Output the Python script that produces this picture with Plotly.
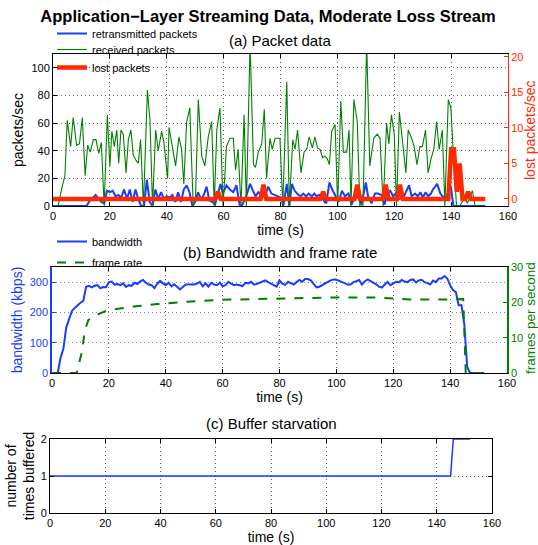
import plotly.graph_objects as go

# ---------------- data ----------------
# (a) received packets (green), time in s
recv_t = [0, 1.8, 3.0, 4.2, 5.0, 6.2, 7.1, 8.3, 9.3, 10.3, 11.3, 12.2, 13.1, 14.2, 15.1, 16.1, 17.0, 18.0,
          19.1, 20.0, 20.7, 21.6, 22.4, 23.1, 23.9, 24.7, 25.7, 26.5, 27.4, 28.2, 29.2, 30.0, 30.8, 31.8,
          33.2, 34.1, 35.0, 36.1, 37.0, 38.2, 39.0, 40.3, 40.8, 41.7, 43.1, 44.3, 45.2, 46.0, 47.0, 48.1,
          49.3, 50.1, 51.1, 52.3, 53.4, 54.6, 55.8, 56.7, 57.6, 58.7, 59.8, 61.0, 62.2, 63.4, 64.2, 65.1,
          66.1, 67.2, 68.0, 69.3, 70.5, 71.2, 72.2, 73.4, 74.3, 75.1, 76.3, 77.1, 78.1, 79.8, 80.8, 82.2,
          83.1, 84.3, 85.1, 86.0, 87.2, 88.3, 89.2, 90.1, 91.2, 92.1, 93.0, 93.9, 94.8, 95.6, 96.5, 97.2,
          98.0, 99.2, 100.1, 101.2, 102.1, 103.3, 104.1, 104.8, 105.8, 107.0, 107.9, 109.0, 110.3, 111.4,
          112.8, 114.0, 115.0, 116.1, 117.3, 118.1, 119.0, 120.0, 120.8, 121.8, 123.2, 124.1, 124.9, 126.1,
          127.0, 128.0, 129.0, 129.9, 131.0, 131.9, 132.9, 133.9, 134.9, 135.8, 136.9, 137.8, 139.0, 139.9,
          141.1, 141.9, 143.0, 144.8, 145.7, 147.5, 148.4, 152.0]
recv_v = [0, 0, 12, 22, 62, 43, 64, 44, 45, 64, 22, 44, 39, 48, 48, 38, 46, 0,
          66, 29, 54, 43, 55, 31, 55, 52, 24, 48, 55, 37, 33, 31, 48, 0,
          84, 62, 0, 55, 40, 54, 46, 20, 57, 45, 29, 50, 41, 16, 61, 71,
          0, 5, 77, 36, 29, 50, 61, 0, 55, 71, 0, 43, 49, 49, 26, 41,
          0, 66, 0, 118, 30, 28, 39, 45, 70, 20, 49, 41, 49, 49, 0, 90,
          0, 48, 41, 55, 24, 39, 41, 50, 42, 50, 42, 41, 35, 36, 34, 30,
          54, 59, 0, 76, 39, 39, 55, 0, 77, 61, 0, 0, 118, 29,
          49, 52, 49, 0, 60, 45, 66, 52, 0, 68, 40, 24, 55, 49,
          43, 30, 43, 43, 55, 24, 34, 41, 61, 41, 55, 0, 77, 71,
          26, 0, 0, 6, 2, 11, 0, 0]

# (a) retransmitted packets (blue)
retx_t = [0, 11.8, 13, 14, 15, 16, 17, 18, 19, 20, 21, 22, 23, 24, 25, 26, 27, 28, 29, 30, 31, 32, 33, 34,
          35, 36, 37, 38, 39, 40, 41, 42, 43, 44, 45, 46, 47, 48, 49, 50, 51, 52, 53, 54, 55, 56, 57,
          58.9, 59.7, 61, 62.2, 63.4, 64.5, 65.6, 66.4, 67.9, 69.3, 70.1, 71.2, 72.2, 73.4, 74.5, 75.7,
          76.8, 78, 79.2, 80.3, 81, 82.2, 83.1, 84, 85, 86.3, 87.1, 88, 89, 89.9, 91, 91.9, 92.7, 93.5,
          94.4, 95.5, 96.1, 97.2, 98.4, 99.2, 100.4, 101.6, 102.7, 103.9, 105, 106.2, 107.3, 108.5, 110,
          110.8, 112, 113.2, 114.3, 115.5, 116.6, 117.5, 118.6, 119.6, 120.5, 121.5, 123.2, 125.2, 126.1,
          127.3, 128.3, 129.2, 130.1, 131, 131.9, 132.9, 133.6, 135.1, 136.2, 137, 138.2, 139.9, 140.8, 152]
retx_v = [0, 0, 4, 6, 8, 5, 3, 2, 11, 10, 11, 7, 8, 6, 12, 5, 12, 3, 12, 5, 0, 0, 19, 3,
          0, 12, 5, 10, 5, 7, 6, 8, 3, 10, 3, 12, 15, 10, 0, 3, 10, 5, 8, 14, 4, 3, 1,
          16, 9, 15, 12, 10, 15, 1, 0, 7, 16, 12, 7, 10, 7, 7, 14,
          9, 8, 7, 6, 0, 16, 0, 16, 11, 8, 7, 9, 7, 9, 7, 9, 7, 8,
          7, 3, 2, 17, 11, 8, 3, 11, 7, 9, 1, 7, 6, 1, 17,
          7, 2, 9, 9, 8, 1, 9, 11, 7, 9, 5, 6, 15, 7,
          9, 7, 10, 6, 10, 7, 9, 12, 16, 9, 7, 6, 14, 0, 0]

# (a) lost packets (red, right axis)
lost_t = [0, 57, 58, 59, 73, 74, 75, 94, 95, 96, 106, 107, 108, 116, 117, 118, 121, 122, 123,
          139, 140, 141, 142, 143, 144, 145, 146, 147, 152]
lost_v = [0, 0, 1, 0, 0, 2, 0, 0, 1, 0, 0, 2, 0, 0, 2, 0, 0, 2, 0,
          0, 7, 7, 1, 5, 0, 0, 1, 0, 0]

# (b) bandwidth (kbps), one value per second from t=0
bw_v = [0, 0, 0, 50, 80, 150, 175, 205, 215, 225, 232, 238, 285, 288, 283, 288, 290, 280, 284, 283,
        300, 302, 292, 294, 290, 296, 284, 290, 288, 298, 294, 303, 307, 298, 292, 290, 280, 295, 304, 296,
        290, 298, 286, 293, 284, 276, 284, 292, 292, 292, 292, 295, 301, 286, 296, 285, 298, 292, 290, 298,
        286, 290, 301, 295, 290, 292, 289, 287, 298, 296, 301, 292, 294, 298, 300, 306, 300, 296, 290, 285,
        306, 295, 291, 301, 296, 292, 300, 307, 301, 310, 310, 306, 294, 283, 285, 290, 296, 302, 306, 309,
        308, 304, 300, 296, 292, 292, 300, 303, 307, 292, 303, 309, 304, 300, 293, 285, 282, 292, 301, 290,
        296, 301, 300, 307, 302, 300, 307, 309, 299, 306, 308, 300, 297, 292, 305, 300, 312, 312, 320, 312,
        290, 274, 268, 224, 224, 160, 20, 0, 0, 0, 0, 0, 0]
bw_t = list(range(len(bw_v)))

# (b) frame rate (fps, right axis)
fr_t = [0, 8.7, 10.4, 11.6, 12.8, 14.5, 16.9, 19.2, 21.6, 28.6, 36.9, 47.4, 59.0, 75.6, 88.5, 100.2,
        112.0, 120.2, 126.0, 140.0, 144.6, 145.5, 152]
fr_v = [0, 0, 5.6, 12.2, 15.0, 15.9, 16.9, 17.6, 18.0, 18.8, 19.5, 20.2, 20.7, 21.1, 21.2, 21.4,
        21.4, 21.1, 20.8, 20.8, 20.9, 0, 0]

# (c) buffer starvation
buf_t = [0, 145, 146, 152]
buf_v = [1, 1, 2, 2]

x_ticks = [0, 20, 40, 60, 80, 100, 120, 140, 160]

# ---------------- styling ----------------
FONT = "Liberation Sans, Arial, Helvetica, sans-serif"
BLUE = "#1a3cff"
GREEN = "#008000"
RED = "#ff2a00"
W, H = 538, 545
DOTS = "1px,3px"

def dx(a, b):
    return [a / W, b / W]

def dy(top, bottom):
    return [1 - bottom / H, 1 - top / H]

fig = go.Figure()

fig.add_trace(go.Scatter(x=retx_t, y=retx_v, mode="lines", name="retransmitted packets",
                         line=dict(color=BLUE, width=2), xaxis="x", yaxis="y", legend="legend"))
fig.add_trace(go.Scatter(x=recv_t, y=recv_v, mode="lines", name="received packets",
                         line=dict(color=GREEN, width=1.1), xaxis="x", yaxis="y", legend="legend2"))
fig.add_trace(go.Scatter(x=lost_t, y=lost_v, mode="lines", name="lost packets",
                         line=dict(color=RED, width=4.5), xaxis="x", yaxis="y2", legend="legend3"))

fig.add_trace(go.Scatter(x=bw_t, y=bw_v, mode="lines", name="bandwidth",
                         line=dict(color=BLUE, width=2), xaxis="x2", yaxis="y3", legend="legend4"))
fig.add_trace(go.Scatter(x=fr_t, y=fr_v, mode="lines", name="frame rate",
                         line=dict(color=GREEN, width=2, dash="dash"), xaxis="x2", yaxis="y4", legend="legend5"))

fig.add_trace(go.Scatter(x=buf_t, y=buf_v, mode="lines", name="buffered",
                         line=dict(color=BLUE, width=1.5), xaxis="x3", yaxis="y5", showlegend=False))

tickfont = dict(family=FONT, size=11, color="black")
titlefont = dict(family=FONT, size=14, color="black")
grid = dict(showgrid=True, gridcolor="#666666", griddash=DOTS, gridwidth=1)

def xax(domain, anchor):
    return dict(domain=domain, anchor=anchor, range=[0, 160], tickvals=x_ticks, automargin=False,
                ticks="inside", ticklen=4, tickcolor="black", showline=True, linecolor="black",
                linewidth=1, mirror="ticks", zeroline=False, tickfont=tickfont,
                title=dict(text="time (s)", font=titlefont, standoff=2), **grid)

def leg(top_px):
    return dict(x=52 / W, y=1 - (top_px - 14) / H, xanchor="left", yanchor="top",
                bgcolor="rgba(0,0,0,0)", font=dict(family=FONT, size=11, color="black"))

# right-hand axis titles placed at the reference's x position
def right_title(text, color, center_px, size):
    return dict(text=text, x=530 / W, y=1 - center_px / H, xref="paper", yref="paper",
                showarrow=False, textangle=-90, xanchor="center", yanchor="middle",
                font=dict(family=FONT, size=size, color=color))

fig.update_layout(
    width=W, height=H, margin=dict(l=0, r=0, t=0, b=0, autoexpand=False),
    paper_bgcolor="white", plot_bgcolor="white",
    font=dict(family=FONT, color="black"),
    title=dict(text="<b>Application\u2212Layer Streaming Data, Moderate Loss Stream</b>",
               x=268 / W, xanchor="center", y=1 - 16 / H, yanchor="middle",
               font=dict(family=FONT, size=16.5, color="black")),
    xaxis=xax(dx(53, 508), "y"),
    yaxis=dict(domain=dy(54, 206), anchor="x", range=[0, 110], tickvals=[0, 20, 40, 60, 80, 100],
               ticks="inside", ticklen=4, tickcolor="black", showline=True, linecolor="black",
               zeroline=False, tickfont=tickfont, automargin=False,
               title=dict(text="packets/sec", font=titlefont, standoff=4), **grid),
    yaxis2=dict(overlaying="y", anchor="x", side="right", range=[-0.99, 20.42], automargin=False,
                tickvals=[0, 5, 10, 15, 20], ticks="inside", ticklen=4, tickcolor=RED,
                showline=True, linecolor=RED, zeroline=False, showgrid=False,
                tickfont=dict(family=FONT, size=11, color=RED)),
    xaxis2=xax(dx(52, 507), "y3"),
    yaxis3=dict(domain=dy(267, 373), anchor="x2", range=[0, 350], tickvals=[0, 100, 200, 300],
                ticks="inside", ticklen=4, tickcolor=BLUE, showline=True, linecolor=BLUE, linewidth=1.5,
                zeroline=False, tickfont=dict(family=FONT, size=11, color=BLUE), automargin=False,
                showgrid=True, gridcolor="#6f80ff", griddash=DOTS, gridwidth=1,
                title=dict(text="bandwidth (kbps)", font=dict(family=FONT, size=14, color=BLUE), standoff=4)),
    yaxis4=dict(overlaying="y3", anchor="x2", side="right", range=[0, 30], tickvals=[0, 10, 20, 30],
                ticks="inside", ticklen=4, tickcolor=GREEN, showline=True, linecolor=GREEN, linewidth=1.5,
                zeroline=False, showgrid=False, tickfont=dict(family=FONT, size=11, color=GREEN),
                automargin=False),
    xaxis3=xax(dx(50, 492), "y5"),
    yaxis5=dict(domain=dy(439, 513), anchor="x3", range=[0, 2], tickvals=[0, 1, 2],
                ticks="inside", ticklen=4, tickcolor="black", showline=True, linecolor="black",
                mirror="ticks", zeroline=False, tickfont=tickfont, automargin=False,
                title=dict(text="number of<br>times buffered", font=titlefont, standoff=2), **grid),
    legend=leg(33),
    legend2=leg(49),
    legend3=leg(67),
    legend4=leg(241),
    legend5=leg(262),
    annotations=[
        dict(text="(a) Packet data", x=280 / W, y=1 - 40 / H, xref="paper", yref="paper",
             showarrow=False, xanchor="center", yanchor="middle", font=dict(family=FONT, size=15)),
        dict(text="(b) Bandwidth and frame rate", x=280 / W, y=1 - 252 / H, xref="paper", yref="paper",
             showarrow=False, xanchor="center", yanchor="middle", font=dict(family=FONT, size=15)),
        dict(text="(c) Buffer starvation", x=271 / W, y=1 - 423 / H, xref="paper", yref="paper",
             showarrow=False, xanchor="center", yanchor="middle", font=dict(family=FONT, size=15)),
        right_title("lost packets/sec", RED, 130, 14),
        right_title("frames per second", GREEN, 318, 13.5),
    ],
)

fig.write_html("out.html", config={"displayModeBar": False},
               post_script="document.body.style.margin='0px';document.body.style.padding='0px';"
                           "document.documentElement.style.overflow='hidden';")
